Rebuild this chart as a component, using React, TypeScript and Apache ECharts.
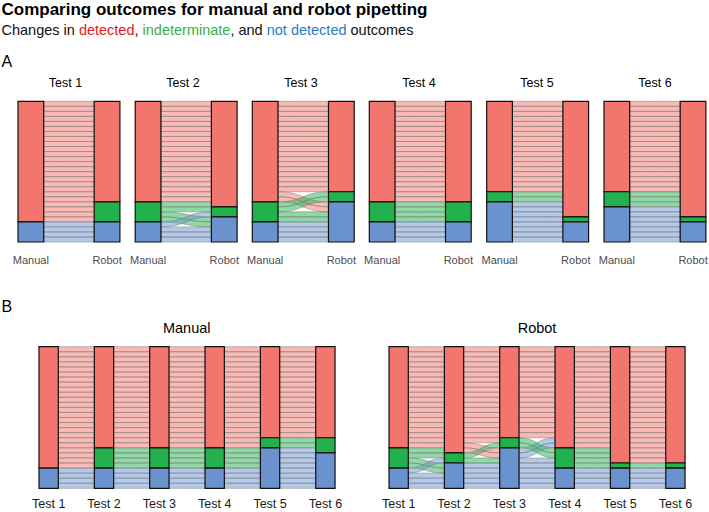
import React, { useEffect, useRef } from "react";
import * as echarts from "echarts";

const tests = ["Test 1", "Test 2", "Test 3", "Test 4", "Test 5", "Test 6"];
const methods = ["Manual", "Robot"];
const outcomeCodes = ["D", "I", "N"]; // detected, indeterminate, not detected
const outcomeNames = ["detected", "indeterminate", "not detected"];

// One string per test, one letter per sample (28 samples, same sample order in every string)
const manualOutcomes = [
  "DDDD DDDD DDDD DDDD DDDD DDDD NNNN",
  "DDDD DDDD DDDD DDDD DDDD IIII NNNN",
  "DDDD DDDD DDDD DDDD DDDD IIII NNNN",
  "DDDD DDDD DDDD DDDD DDDD IIII NNNN",
  "DDDD DDDD DDDD DDDD DDII NNNN NNNN",
  "DDDD DDDD DDDD DDDD DDII INNN NNNN",
];
const robotOutcomes = [
  "DDDD DDDD DDDD DDDD DDDD IIII NNNN",
  "DDDD DDDD DDDD DDDD DDDD DINN INNN",
  "DDDD DDDD DDDD DDDD DDNN IINN NNNN",
  "DDDD DDDD DDDD DDDD DDDD IIII NNNN",
  "DDDD DDDD DDDD DDDD DDDD DDDI NNNN",
  "DDDD DDDD DDDD DDDD DDDD DDDI NNNN",
];

const barColors = ["#F3766E", "#22B14C", "#6A92CF"];
const flowColors = [
  "rgba(243,118,110,0.5)",
  "rgba(34,177,76,0.5)",
  "rgba(106,146,207,0.5)",
];
const textColors = ["#E41A1C", "#3AAE49", "#2B7BBF"];
const FONT = "'Liberation Sans', Arial, Helvetica, sans-serif";

function parse(s: string): number[] {
  return s
    .replace(/\s/g, "")
    .split("")
    .map((c) => outcomeCodes.indexOf(c));
}

function buildFacet(columns: number[][]) {
  const n = columns[0].length;
  const bars: number[][] = [];
  columns.forEach((col, k) => {
    let start = 0;
    for (let o = 0; o < outcomeCodes.length; o++) {
      const cnt = col.filter((v) => v === o).length;
      if (cnt > 0) bars.push([k, start, start + cnt, o]);
      start += cnt;
    }
  });
  const flows: number[][] = [];
  for (let k = 0; k < columns.length - 1; k++) {
    const a = columns[k];
    const b = columns[k + 1];
    const idx = Array.from({ length: n }, (_, i) => i);
    const outOrder = idx.slice().sort((i, j) => a[i] - a[j] || b[i] - b[j] || i - j);
    const inOrder = idx.slice().sort((i, j) => b[i] - b[j] || a[i] - a[j] || i - j);
    const outRow: number[] = [];
    const inRow: number[] = [];
    outOrder.forEach((s, r) => (outRow[s] = r));
    inOrder.forEach((s, r) => (inRow[s] = r));
    for (let s = 0; s < n; s++) flows.push([k, outRow[s], k + 1, inRow[s], a[s]]);
  }
  return { bars, flows, n };
}

export default function App() {
  const ref = useRef<HTMLDivElement>(null);
  useEffect(() => {
    if (!ref.current) return;
    const chart = echarts.init(ref.current, undefined, { renderer: "svg" });

    const manual = manualOutcomes.map(parse);
    const robot = robotOutcomes.map(parse);

    type Facet = {
      cats: string[];
      columns: number[][];
      left: number;
      top: number;
      height: number;
      band: number;
      barW: number;
      labelSize: number;
      labelColor: string;
      labelMargin: number;
    };
    const facets: Facet[] = [];
    // Panel A
    const aBarLeft = [18, 135.2, 252.3, 369.3, 486.7, 604];
    const aBand = 76.2;
    const aBarW = 25.7;
    tests.forEach((_, t) => {
      facets.push({
        cats: methods,
        columns: [manual[t], robot[t]],
        left: aBarLeft[t] + aBarW / 2 - aBand / 2,
        top: 101.3,
        height: 140.7,
        band: aBand,
        barW: aBarW,
        labelSize: 11,
        labelColor: "#4d4d4d",
        labelMargin: 12.5,
      });
    });
    // Panel B
    const bBand = 55.35;
    const bFirst = [48.65, 398.67];
    [manual, robot].forEach((m, i) => {
      facets.push({
        cats: tests,
        columns: m,
        left: bFirst[i] - bBand / 2,
        top: 346.7,
        height: 141.6,
        band: bBand,
        barW: 19.3,
        labelSize: 12.5,
        labelColor: "#1a1a1a",
        labelMargin: 9,
      });
    });

    const grid: any[] = [];
    const xAxis: any[] = [];
    const yAxis: any[] = [];
    const series: any[] = [];
    facets.forEach((f, gi) => {
      const { bars, flows, n } = buildFacet(f.columns);
      grid.push({
        left: f.left,
        top: f.top,
        width: f.band * f.cats.length,
        height: f.height,
        containLabel: false,
        outerBoundsMode: "none",
      });
      xAxis.push({
        gridIndex: gi,
        type: "category",
        data: f.cats,
        axisLine: { show: false },
        axisTick: { show: false },
        splitLine: { show: false },
        axisLabel: {
          fontSize: f.labelSize,
          color: f.labelColor,
          fontFamily: FONT,
          margin: f.labelMargin,
          interval: 0,
        },
      });
      yAxis.push({
        gridIndex: gi,
        type: "value",
        min: 0,
        max: n,
        inverse: true,
        show: false,
        splitLine: { show: false },
      });
      const frac = f.barW / f.band;
      series.push({
        type: "custom",
        xAxisIndex: gi,
        yAxisIndex: gi,
        z: 1,
        silent: true,
        data: flows,
        renderItem: (params: any, api: any) => {
          const k0 = api.value(0);
          const r0 = api.value(1);
          const k1 = api.value(2);
          const r1 = api.value(3);
          const o = api.value(4);
          const half = (api.size([1, 0])[0] * frac) / 2;
          const p0t = api.coord([k0, r0]);
          const p0b = api.coord([k0, r0 + 1]);
          const p1t = api.coord([k1, r1]);
          const p1b = api.coord([k1, r1 + 1]);
          const x0 = p0t[0] + half;
          const x1 = p1t[0] - half;
          const xm = (x0 + x1) / 2;
          const d =
            `M${x0},${p0t[1]} C${xm},${p0t[1]} ${xm},${p1t[1]} ${x1},${p1t[1]} ` +
            `L${x1},${p1b[1]} C${xm},${p1b[1]} ${xm},${p0b[1]} ${x0},${p0b[1]} Z`;
          return {
            type: "path",
            shape: { pathData: d },
            style: { fill: flowColors[o], stroke: "rgba(120,120,120,0.6)", lineWidth: 0.8 },
          };
        },
      });
      series.push({
        type: "custom",
        xAxisIndex: gi,
        yAxisIndex: gi,
        z: 3,
        silent: true,
        data: bars,
        renderItem: (params: any, api: any) => {
          const k = api.value(0);
          const s = api.value(1);
          const e = api.value(2);
          const o = api.value(3);
          const half = (api.size([1, 0])[0] * frac) / 2;
          const c0 = api.coord([k, s]);
          const c1 = api.coord([k, e]);
          return {
            type: "rect",
            shape: { x: c0[0] - half, y: c0[1], width: 2 * half, height: c1[1] - c0[1] },
            style: { fill: barColors[o], stroke: "#111", lineWidth: 1.2 },
          };
        },
      });
    });

    const txt = (text: string, x: number, y: number, size: number, extra: any = {}) => ({
      type: "text",
      x,
      y,
      silent: true,
      style: {
        text,
        fontSize: size,
        fontFamily: FONT,
        fill: "#000",
        align: "left",
        verticalAlign: "middle",
        ...extra,
      },
    });

    const aHeaderX = [65.5, 183, 301, 419, 537, 655];
    const graphic: any[] = [
      txt("Comparing outcomes for manual and robot pipetting", 1.5, 9.5, 17, { fontWeight: "bold" }),
      txt(
        `{k|Changes in }{d|${outcomeNames[0]}}{k|, }{i|${outcomeNames[1]}}{k|, and }{n|${outcomeNames[2]}}{k| outcomes}`,
        1.5,
        30,
        14.5,
        {
          rich: {
            k: { fill: "#111", color: "#111", fontSize: 14.5, fontFamily: FONT },
            d: { fill: textColors[0], color: textColors[0], fontSize: 14.5, fontFamily: FONT },
            i: { fill: textColors[1], color: textColors[1], fontSize: 14.5, fontFamily: FONT },
            n: { fill: textColors[2], color: textColors[2], fontSize: 14.5, fontFamily: FONT },
          },
        }
      ),
      txt("A", 1.5, 61, 16),
      txt("B", 1.5, 306.7, 16),
      ...tests.map((t, i) => txt(t, aHeaderX[i], 82.7, 12.5, { align: "center" })),
      txt(methods[0], 186.7, 328, 14.5, { align: "center" }),
      txt(methods[1], 537, 328, 14.5, { align: "center" }),
    ];

    chart.setOption({
      animation: false,
      backgroundColor: "#ffffff",
      grid,
      xAxis,
      yAxis,
      series,
      graphic,
    });
    return () => chart.dispose();
  }, []);

  return (
    <div
      ref={ref}
      style={{ position: "fixed", left: 0, top: 0, width: 709, height: 512, background: "#fff" }}
    />
  );
}
